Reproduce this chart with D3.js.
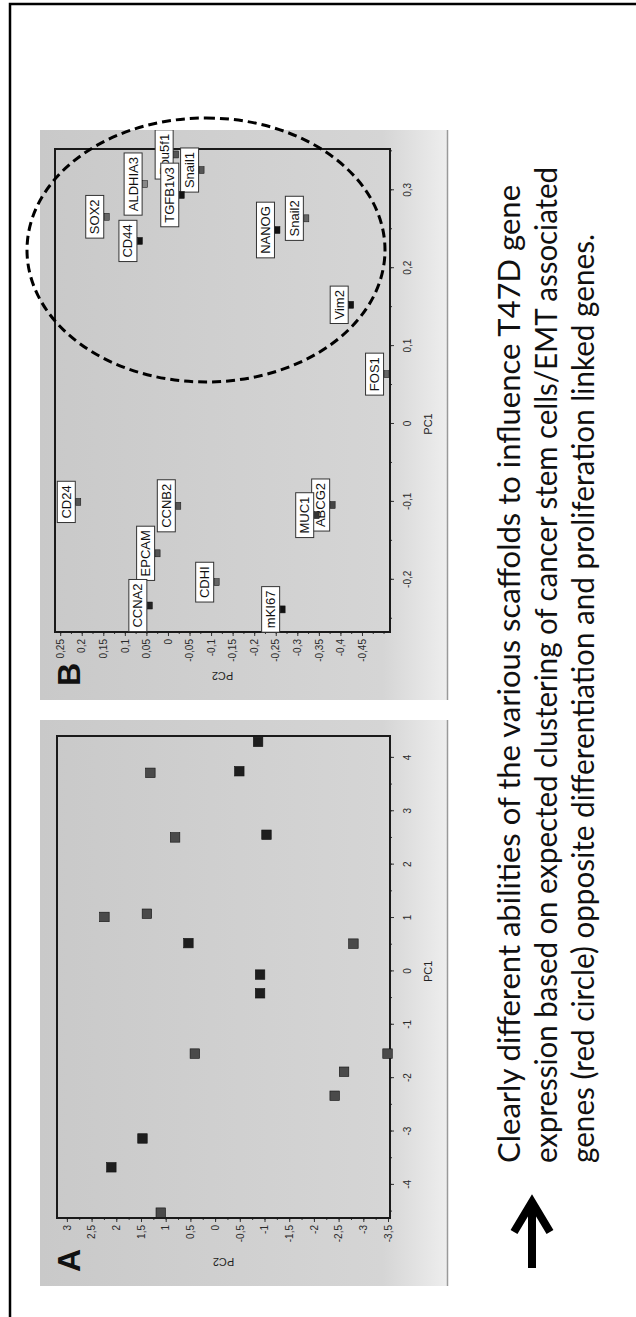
<!DOCTYPE html>
<html>
<head>
<meta charset="utf-8">
<script src="https://cdn.jsdelivr.net/npm/d3@7"></script>
<style>
  html, body { margin: 0; padding: 0; background: #fff; }
  svg { display: block; }
</style>
</head>
<body>
<svg id="fig" width="636" height="1317"></svg>
<script>
// ---- Panel A: sample scores on the first two principal components ----
const scorePC1 = [4.30, 3.72, 3.75, 2.51, 2.56, 1.02, 1.08, 0.53, -0.06, -0.41, -1.54, -3.13, -3.67, -4.52, 0.52, -1.54, -1.88, -2.33];
const scorePC2 = [-0.87, 1.31, -0.49, 0.81, -1.04, 2.24, 1.38, 0.54, -0.91, -0.91, 0.41, 1.47, 2.10, 1.10, -2.80, -3.49, -2.61, -2.42];
const scoreShade = ["#1e1e1e", "#4a4a4a", "#1e1e1e", "#4a4a4a", "#1e1e1e", "#4a4a4a", "#4a4a4a", "#1e1e1e", "#1e1e1e", "#1e1e1e", "#4a4a4a", "#1e1e1e", "#1e1e1e", "#4a4a4a", "#4a4a4a", "#4a4a4a", "#4a4a4a", "#4a4a4a"];

// ---- Panel B: gene loadings ----
const genes   = ["CD24", "CCNB2", "EPCAM", "CCNA2", "CDHI", "mKI67", "ABCG2", "MUC1", "FOS1", "Vim2", "NANOG", "Snail2", "SOX2", "CD44", "ALDHIA3", "Pou5f1", "Snail1", "TGFB1v3"];
const loadPC1 = [-0.100, -0.105, -0.166, -0.233, -0.203, -0.238, -0.104, -0.117, 0.064, 0.153, 0.249, 0.264, 0.266, 0.235, 0.308, 0.346, 0.326, 0.294];
const loadPC2 = [0.208, -0.024, 0.024, 0.042, -0.113, -0.266, -0.382, -0.345, -0.507, -0.425, -0.254, -0.321, 0.142, 0.065, 0.053, -0.019, -0.078, -0.032];
const geneShade = ["#555", "#555", "#555", "#222", "#666", "#111", "#444", "#333", "#666", "#111", "#111", "#666", "#666", "#111", "#888", "#555", "#555", "#111"];

// ---- Axis tick labels ----
const ticksA_PC1 = [-4, -3, -2, -1, 0, 1, 2, 3, 4];
const ticksA_PC2 = [3, 2.5, 2, 1.5, 1, 0.5, 0, -0.5, -1, -1.5, -2, -2.5, -3, -3.5];
const ticksB_PC1 = [-0.2, -0.1, 0, 0.1, 0.2, 0.3];
const ticksB_PC2 = [0.25, 0.2, 0.15, 0.1, 0.05, 0, -0.05, -0.1, -0.15, -0.2, -0.25, -0.3, -0.35, -0.4, -0.45];

const captionLines = [
  "Clearly different abilities of the various scaffolds to influence T47D gene",
  "expression based on expected clustering of cancer stem cells/EMT associated",
  "genes (red circle) opposite differentiation and proliferation linked genes."
];
const captionLengths = [978, 996, 929];

const W = 636, H = 1317;
const fmt = d3.formatLocale({decimal: ",", thousands: ".", grouping: [3], currency: ["", ""], minus: "-"}).format("~g");
const svg = d3.select("#fig");
const defs = svg.append("defs");

// outer box
svg.append("path")
  .attr("d", `M10,${H} V4 H${W}`)
  .attr("fill", "none").attr("stroke", "#000").attr("stroke-width", 2.5);

// the whole figure is laid out landscape and turned a quarter turn
const g = svg.append("g").attr("transform", `translate(0,${H}) rotate(-90)`);

const grad = defs.append("linearGradient").attr("id", "panelGray")
  .attr("gradientUnits", "userSpaceOnUse")
  .attr("x1", 0).attr("y1", 40).attr("x2", 0).attr("y2", 448);
grad.append("stop").attr("offset", 0).attr("stop-color", "#c9c9c9");
grad.append("stop").attr("offset", 0.84).attr("stop-color", "#d5d5d5");
grad.append("stop").attr("offset", 1).attr("stop-color", "#eeeeee");

function panel(cfg) {
  const p = g.append("g");
  p.append("rect")
    .attr("x", cfg.bg[0]).attr("y", 40)
    .attr("width", cfg.bg[1] - cfg.bg[0]).attr("height", 408)
    .attr("fill", "url(#panelGray)");
  p.append("line")
    .attr("x1", cfg.bg[0]).attr("x2", cfg.bg[1]).attr("y1", 447.5).attr("y2", 447.5)
    .attr("stroke", "#9a9a9a").attr("stroke-width", 1.5);

  const x = d3.scaleLinear().domain(cfg.xDom).range([cfg.frame[0], cfg.frame[1]]);
  const y = d3.scaleLinear().domain(cfg.yDom).range([390, cfg.frameTop]);

  // axes
  const ax = p.append("g").attr("transform", "translate(0,390)")
    .call(d3.axisBottom(x).tickValues(cfg.xTicks).tickFormat(fmt).tickSize(4).tickPadding(10));
  const axm = p.append("g").attr("transform", "translate(0,390)")
    .call(d3.axisBottom(x).tickValues(cfg.xMinor).tickFormat("").tickSize(2));
  const ay = p.append("g").attr("transform", `translate(${cfg.frame[0]},0)`)
    .call(d3.axisLeft(y).tickValues(cfg.yTicks).tickFormat(fmt).tickSize(4).tickPadding(3));
  const aym = p.append("g").attr("transform", `translate(${cfg.frame[0]},0)`)
    .call(d3.axisLeft(y).tickValues(cfg.yMinor).tickFormat("").tickSize(2));
  [ax, axm, ay, aym].forEach(a => {
    a.select(".domain").remove();
    a.selectAll("line").attr("stroke", "#333");
    a.selectAll("text").attr("fill", "#2a2a2a")
      .style("font-family", "'Liberation Sans', Arial, sans-serif").style("font-size", "10px");
  });

  // plot frame
  p.append("rect")
    .attr("x", cfg.frame[0]).attr("y", cfg.frameTop)
    .attr("width", cfg.frame[1] - cfg.frame[0]).attr("height", 390 - cfg.frameTop)
    .attr("fill", "none").attr("stroke", "#1a1a1a").attr("stroke-width", 2);

  // axis titles
  p.append("text")
    .attr("x", x(0)).attr("y", 432)
    .attr("text-anchor", "middle")
    .style("font-family", "'Liberation Sans', Arial, sans-serif").style("font-size", "11px")
    .attr("fill", "#222").text("PC1");
  p.append("text")
    .attr("transform", `translate(${cfg.bg[0] + 28},${(cfg.frameTop + 390) / 2}) rotate(-90)`)
    .attr("text-anchor", "middle")
    .style("font-family", "'Liberation Sans', Arial, sans-serif").style("font-size", "11px")
    .attr("fill", "#222").text("PC2");

  // panel letter
  p.append("text")
    .attr("x", cfg.bg[0] + 14).attr("y", 80)
    .style("font-family", "'Liberation Sans', Arial, sans-serif").style("font-size", "32px")
    .style("font-weight", "bold").attr("fill", "#111").text(cfg.letter);

  return {p, x, y};
}

// ---- Panel A ----
const A = panel({
  letter: "A", bg: [31, 597], frame: [99, 581], frameTop: 57,
  xDom: [-4.62, 4.41], yDom: [-3.54, 3.2],
  xTicks: ticksA_PC1, yTicks: ticksA_PC2,
  xMinor: d3.range(-4.5, 4.5, 0.5), yMinor: d3.range(-3.5, 3.01, 0.25)
});
const sA = 9.5;
A.p.append("g").selectAll("rect")
  .data(scorePC1.map((v, i) => ({pc1: v, pc2: scorePC2[i], shade: scoreShade[i]})))
  .join("rect")
  .attr("x", d => A.x(d.pc1) - sA / 2).attr("y", d => A.y(d.pc2) - sA / 2)
  .attr("width", sA).attr("height", sA)
  .attr("fill", d => d.shade).attr("stroke", "#111").attr("stroke-width", 0.6);

// ---- Panel B ----
const B = panel({
  letter: "B", bg: [617, 1187], frame: [685, 1168], frameTop: 55,
  xDom: [-0.267, 0.353], yDom: [-0.515, 0.262],
  xTicks: ticksB_PC1, yTicks: ticksB_PC2,
  xMinor: d3.range(-0.25, 0.351, 0.05), yMinor: d3.range(-0.5, 0.26, 0.025)
});
defs.append("clipPath").attr("id", "clipB")
  .append("rect").attr("x", 617).attr("y", 40).attr("width", 570).attr("height", 408);

const lab = B.p.append("g").attr("clip-path", "url(#clipB)");
const geneData = genes.map((name, i) => ({name, pc1: loadPC1[i], pc2: loadPC2[i], shade: geneShade[i]}));
geneData.forEach(d => {
  const cx = B.x(d.pc1), cy = B.y(d.pc2);
  const gg = lab.append("g");
  const box = gg.append("rect");
  const t = gg.append("text")
    .attr("x", cx).attr("y", cy - 3 - 4.5)
    .attr("text-anchor", "middle")
    .style("font-family", "'Liberation Sans', Arial, sans-serif").style("font-size", "13px")
    .attr("fill", "#111").text(d.name);
  const w = t.node().getComputedTextLength() + 8;
  box.attr("x", cx - w / 2).attr("y", cy - 3 - 18).attr("width", w).attr("height", 18)
    .attr("fill", "#fff").attr("stroke", "#333").attr("stroke-width", 1);
  gg.append("rect")
    .attr("x", cx - 3.5).attr("y", cy - 2.5).attr("width", 7).attr("height", 5)
    .attr("fill", d.shade).attr("stroke", "#111").attr("stroke-width", 0.5);
});

// dashed ring around the stem-cell / EMT cluster
g.append("ellipse")
  .attr("cx", 1067).attr("cy", 206).attr("rx", 132).attr("ry", 179)
  .attr("fill", "none").attr("stroke", "#000").attr("stroke-width", 3)
  .attr("stroke-dasharray", "9,5");

// ---- caption with arrow ----
const arrow = g.append("g").attr("fill", "none").attr("stroke", "#000")
  .attr("stroke-width", 8).attr("stroke-linejoin", "miter");
arrow.append("line").attr("x1", 49).attr("x2", 113).attr("y1", 532).attr("y2", 532);
arrow.append("polyline").attr("points", "85,514 115,532 85,550");

g.append("g").selectAll("text")
  .data(captionLines)
  .join("text")
  .attr("x", 154).attr("y", (d, i) => 520 + i * 37)
  .attr("textLength", (d, i) => captionLengths[i])
  .attr("lengthAdjust", "spacingAndGlyphs")
  .style("font-family", "Lato, 'Open Sans', sans-serif").style("font-size", "31px")
  .attr("fill", "#111")
  .text(d => d);
</script>
</body>
</html>
